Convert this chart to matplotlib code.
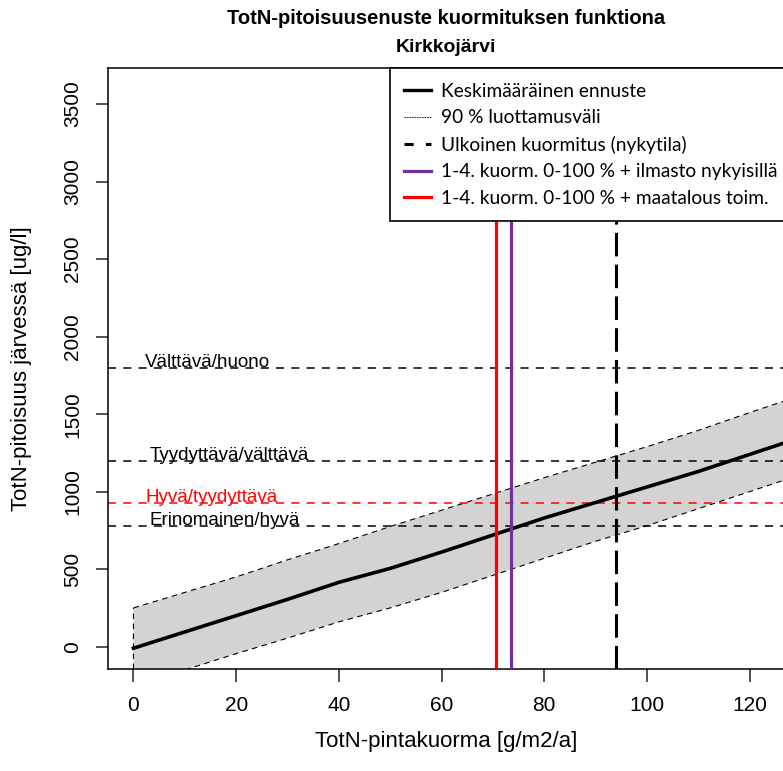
import numpy as np
import matplotlib
matplotlib.use('Agg')
import matplotlib.pyplot as plt
from matplotlib.lines import Line2D

plt.rcParams['font.family'] = ['Liberation Sans', 'DejaVu Sans']

# Load (g/m2/a) and predicted TotN concentration (ug/l)
load = [0, 10, 20, 30, 40, 50, 60, 70, 80, 90, 100, 110, 120, 130]
mean_pred = [-10, 95, 200, 305, 415, 505, 610, 720, 830, 930, 1030, 1130, 1240, 1350]
upper_90 = [250, 350, 450, 560, 665, 775, 880, 985, 1090, 1190, 1290, 1395, 1510, 1620]
lower_90 = [-270, -150, -45, 55, 160, 250, 350, 460, 570, 680, 780, 890, 1000, 1110]

# Class limits
class_names = ['Välttävä/huono', 'Tyydyttävä/välttävä', 'Hyvä/tyydyttävä', 'Erinomainen/hyvä']
class_values = [1800, 1200, 925, 780]
class_colors = ['black', 'black', 'red', 'black']
class_label_x = [2.2, 3.2, 2.4, 3.2]

# Load scenarios
current_load = 94
scenario_names = ['1-4. kuorm. 0-100 % + ilmasto nykyisillä', '1-4. kuorm. 0-100 % + maatalous toim.']
scenario_loads = [73.6, 70.6]
scenario_colors = ['#7030A0', 'red']

fig = plt.figure(figsize=(7.83, 7.71), dpi=100)
ax = fig.add_axes([108.3 / 783, 1 - 669.3 / 771, (785 - 108.3) / 783, (669.3 - 68.3) / 771])

# confidence band
poly_x = load + load[::-1]
poly_y = upper_90 + lower_90[::-1]
ax.fill(poly_x, poly_y, facecolor='#D3D3D3', edgecolor='black', linestyle=(0, (5, 4)), lw=0.8, zorder=1)
ax.plot(load, mean_pred, color='black', lw=2.6, zorder=3)

for name, val, col, lx in zip(class_names, class_values, class_colors, class_label_x):
    ax.axhline(val, color=col, lw=1.1, linestyle=(0, (5.3, 4.7)), zorder=2)
    ax.annotate(name, (lx, val), xytext=(0, 4), textcoords='offset points',
                color=col, fontsize=13.5, va='center', ha='left', zorder=4)

for xv, col in zip(scenario_loads, scenario_colors):
    ax.axvline(xv, color=col, lw=2.3, zorder=5)
ax.axvline(current_load, color='black', lw=2.2, linestyle=(0, (7.7, 2.7)), zorder=5)

ax.set_xlim(-4.9, 126.9)
ax.set_ylim(-146, 3731)
ax.set_xticks(np.arange(0, 121, 20))
ax.set_yticks(np.arange(0, 3501, 500))
ax.tick_params(axis='both', length=9, width=1.1, labelsize=15, color='#222222')
ax.tick_params(axis='x', pad=10)
ax.tick_params(axis='y', pad=10, labelrotation=90)
for lab in ax.get_yticklabels():
    lab.set_va('center')
for s in ax.spines.values():
    s.set_linewidth(1.1)
ax.spines['right'].set_visible(False)

ax.set_xlabel('TotN-pintakuorma [g/m2/a]', fontsize=16, va='center')
ax.set_ylabel('TotN-pitoisuus järvessä [ug/l]', fontsize=16, va='center')
ax.xaxis.set_label_coords((446 - 108.3) / 676.7, (669.3 - 742) / 601)
ax.yaxis.set_label_coords((22 - 108.3) / 676.7, 0.5)

fig.text(446 / 783, 1 - 18 / 771, 'TotN-pitoisuusenuste kuormituksen funktiona',
         weight='bold', fontsize=14.5, ha='center', va='center')
fig.text(446 / 783, 1 - 48 / 771, 'Kirkkojärvi',
         weight='bold', fontsize=14, ha='center', va='center')

handles = [
    Line2D([], [], color='black', lw=2.4),
    Line2D([], [], color='black', lw=0.6, linestyle=(0, (2, 1))),
    Line2D([], [], color='black', lw=2.2, linestyle=(0, (3, 4))),
    Line2D([], [], color=scenario_colors[0], lw=2.3),
    Line2D([], [], color=scenario_colors[1], lw=2.3),
]
labels = ['Keskimääräinen ennuste', '90 % luottamusväli', 'Ulkoinen kuormitus (nykytila)'] + scenario_names
x0 = (390 - 108.3) / 676.7
leg = ax.legend(handles, labels, loc='upper left', bbox_to_anchor=(x0, 0, 1 - x0, 1.0),
                mode='expand', prop={'family': 'Lato', 'size': 13.8}, frameon=True,
                fancybox=False, edgecolor='black', framealpha=1, borderaxespad=0,
                handlelength=1.4, handletextpad=0.5, labelspacing=0.5, borderpad=0.75)
leg.get_frame().set_linewidth(1.2)
leg.set_zorder(10)

fig.savefig('out.png', dpi=100)
